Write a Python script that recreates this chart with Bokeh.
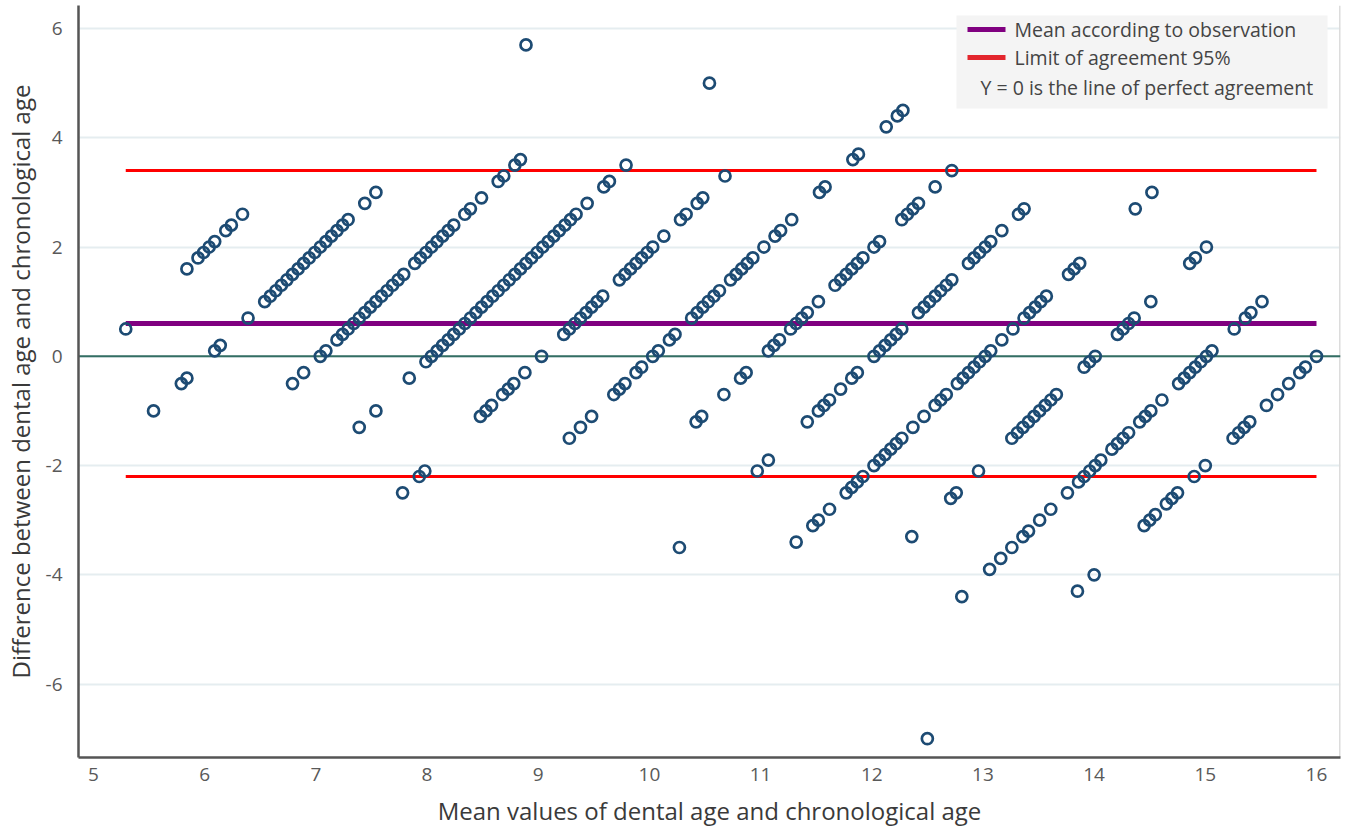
from bokeh.plotting import figure
from bokeh.models import Range1d, FixedTicker, Span, BoxAnnotation, Label
from bokeh.embed import file_html
from bokeh.resources import INLINE

# ---------------- data ----------------
mean_age = [
    # chronological age ~5
    5.29, 5.84, 5.94, 5.99, 6.04, 6.09, 6.19, 6.24, 6.34,
    # ~6
    5.54, 5.79, 5.84, 6.09, 6.14, 6.39, 6.54, 6.59, 6.64, 6.69, 6.74, 6.79, 6.84, 6.89,
    6.94, 6.99, 7.04, 7.09, 7.14, 7.19, 7.24, 7.29, 7.44, 7.54, 8.89,
    # ~7
    6.79, 6.89, 7.04, 7.09, 7.19, 7.24, 7.29, 7.34, 7.39, 7.44, 7.49, 7.54, 7.59, 7.64,
    7.69, 7.74, 7.79, 7.89, 7.94, 7.99, 8.04, 8.09, 8.14, 8.19, 8.24, 8.34, 8.39, 8.49,
    8.64, 8.69, 8.79, 8.84,
    # ~8
    7.39, 7.54, 7.84, 7.99, 8.04, 8.09, 8.14, 8.19, 8.24, 8.29, 8.34, 8.39, 8.44, 8.49,
    8.54, 8.59, 8.64, 8.69, 8.74, 8.79, 8.84, 8.89, 8.94, 8.99, 9.04, 9.09, 9.14, 9.19,
    9.24, 9.29, 9.34, 9.44, 9.59, 9.64, 9.79, 10.54,
    # ~9
    7.78, 7.93, 7.98, 8.48, 8.53, 8.58, 8.68, 8.73, 8.78, 8.88, 9.03, 9.23, 9.28, 9.33,
    9.38, 9.43, 9.48, 9.53, 9.58, 9.73, 9.78, 9.83, 9.88, 9.93, 9.98, 10.03, 10.13, 10.28,
    10.33, 10.43, 10.48, 10.68,
    # ~10
    9.28, 9.38, 9.48, 9.68, 9.73, 9.78, 9.88, 9.93, 10.03, 10.08, 10.18, 10.23, 10.38,
    10.43, 10.48, 10.53, 10.58, 10.63, 10.73, 10.78, 10.83, 10.88, 10.93, 11.03, 11.13,
    11.18, 11.28, 11.53, 11.58, 11.83, 11.88, 12.13, 12.23, 12.28,
    # ~11
    10.42, 10.47, 10.67, 10.82, 10.87, 11.07, 11.12, 11.17, 11.27, 11.32, 11.37, 11.42,
    11.52, 11.67, 11.72, 11.77, 11.82, 11.87, 11.92, 12.02, 12.07, 12.27, 12.32, 12.37,
    12.42, 12.57, 12.72,
    # ~12
    10.27, 10.97, 11.07, 11.42, 11.52, 11.57, 11.62, 11.72, 11.82, 11.87, 12.02, 12.07,
    12.12, 12.17, 12.22, 12.27, 12.42, 12.47, 12.52, 12.57, 12.62, 12.67, 12.72, 12.87,
    12.92, 12.97, 13.02, 13.07, 13.17, 13.32, 13.37,
    # ~13
    11.32, 11.47, 11.52, 11.62, 11.77, 11.82, 11.87, 11.92, 12.02, 12.07, 12.12, 12.17,
    12.22, 12.27, 12.37, 12.47, 12.57, 12.62, 12.67, 12.77, 12.82, 12.87, 12.92, 12.97,
    13.02, 13.07, 13.17, 13.27, 13.37, 13.42, 13.47, 13.52, 13.57, 13.77, 13.82, 13.87,
    14.37, 14.52,
    # ~14
    12.36, 12.71, 12.76, 12.96, 13.26, 13.31, 13.36, 13.41, 13.46, 13.51, 13.56, 13.61,
    13.66, 13.91, 13.96, 14.01, 14.21, 14.26, 14.31, 14.36, 14.51, 14.86, 14.91, 15.01,
    # ~15
    12.81, 13.06, 13.16, 13.26, 13.36, 13.41, 13.51, 13.61, 13.76, 13.86, 13.91, 13.96,
    14.01, 14.06, 14.16, 14.21, 14.26, 14.31, 14.41, 14.46, 14.51, 14.61, 14.76, 14.81,
    14.86, 14.91, 14.96, 15.01, 15.06, 15.26, 15.36, 15.41, 15.51,
    # ~16
    12.50, 13.85, 14.00, 14.45, 14.50, 14.55, 14.65, 14.70, 14.75, 14.90, 15.00, 15.25,
    15.30, 15.35, 15.40, 15.55, 15.65, 15.75, 15.85, 15.90, 16.00,
]

difference = [
    # ~5
    0.5, 1.6, 1.8, 1.9, 2.0, 2.1, 2.3, 2.4, 2.6,
    # ~6
    -1.0, -0.5, -0.4, 0.1, 0.2, 0.7, 1.0, 1.1, 1.2, 1.3, 1.4, 1.5, 1.6, 1.7,
    1.8, 1.9, 2.0, 2.1, 2.2, 2.3, 2.4, 2.5, 2.8, 3.0, 5.7,
    # ~7
    -0.5, -0.3, 0.0, 0.1, 0.3, 0.4, 0.5, 0.6, 0.7, 0.8, 0.9, 1.0, 1.1, 1.2,
    1.3, 1.4, 1.5, 1.7, 1.8, 1.9, 2.0, 2.1, 2.2, 2.3, 2.4, 2.6, 2.7, 2.9,
    3.2, 3.3, 3.5, 3.6,
    # ~8
    -1.3, -1.0, -0.4, -0.1, 0.0, 0.1, 0.2, 0.3, 0.4, 0.5, 0.6, 0.7, 0.8, 0.9,
    1.0, 1.1, 1.2, 1.3, 1.4, 1.5, 1.6, 1.7, 1.8, 1.9, 2.0, 2.1, 2.2, 2.3,
    2.4, 2.5, 2.6, 2.8, 3.1, 3.2, 3.5, 5.0,
    # ~9
    -2.5, -2.2, -2.1, -1.1, -1.0, -0.9, -0.7, -0.6, -0.5, -0.3, 0.0, 0.4, 0.5, 0.6,
    0.7, 0.8, 0.9, 1.0, 1.1, 1.4, 1.5, 1.6, 1.7, 1.8, 1.9, 2.0, 2.2, 2.5,
    2.6, 2.8, 2.9, 3.3,
    # ~10
    -1.5, -1.3, -1.1, -0.7, -0.6, -0.5, -0.3, -0.2, 0.0, 0.1, 0.3, 0.4, 0.7,
    0.8, 0.9, 1.0, 1.1, 1.2, 1.4, 1.5, 1.6, 1.7, 1.8, 2.0, 2.2,
    2.3, 2.5, 3.0, 3.1, 3.6, 3.7, 4.2, 4.4, 4.5,
    # ~11
    -1.2, -1.1, -0.7, -0.4, -0.3, 0.1, 0.2, 0.3, 0.5, 0.6, 0.7, 0.8,
    1.0, 1.3, 1.4, 1.5, 1.6, 1.7, 1.8, 2.0, 2.1, 2.5, 2.6, 2.7,
    2.8, 3.1, 3.4,
    # ~12
    -3.5, -2.1, -1.9, -1.2, -1.0, -0.9, -0.8, -0.6, -0.4, -0.3, 0.0, 0.1,
    0.2, 0.3, 0.4, 0.5, 0.8, 0.9, 1.0, 1.1, 1.2, 1.3, 1.4, 1.7,
    1.8, 1.9, 2.0, 2.1, 2.3, 2.6, 2.7,
    # ~13
    -3.4, -3.1, -3.0, -2.8, -2.5, -2.4, -2.3, -2.2, -2.0, -1.9, -1.8, -1.7,
    -1.6, -1.5, -1.3, -1.1, -0.9, -0.8, -0.7, -0.5, -0.4, -0.3, -0.2, -0.1,
    0.0, 0.1, 0.3, 0.5, 0.7, 0.8, 0.9, 1.0, 1.1, 1.5, 1.6, 1.7,
    2.7, 3.0,
    # ~14
    -3.3, -2.6, -2.5, -2.1, -1.5, -1.4, -1.3, -1.2, -1.1, -1.0, -0.9, -0.8,
    -0.7, -0.2, -0.1, 0.0, 0.4, 0.5, 0.6, 0.7, 1.0, 1.7, 1.8, 2.0,
    # ~15
    -4.4, -3.9, -3.7, -3.5, -3.3, -3.2, -3.0, -2.8, -2.5, -2.3, -2.2, -2.1,
    -2.0, -1.9, -1.7, -1.6, -1.5, -1.4, -1.2, -1.1, -1.0, -0.8, -0.5, -0.4,
    -0.3, -0.2, -0.1, 0.0, 0.1, 0.5, 0.7, 0.8, 1.0,
    # ~16
    -7.0, -4.3, -4.0, -3.1, -3.0, -2.9, -2.7, -2.6, -2.5, -2.2, -2.0, -1.5,
    -1.4, -1.3, -1.2, -0.9, -0.7, -0.5, -0.3, -0.2, 0.0,
]

mean_difference = 0.6
upper_limit = 3.4
lower_limit = -2.2

x_ticks = [5, 6, 7, 8, 9, 10, 11, 12, 13, 14, 15, 16]
y_ticks = [-6, -4, -2, 0, 2, 4, 6]

legend_labels = ["Mean according to observation", "Limit of agreement 95%",
                 "Y = 0 is the line of perfect agreement"]

# ---------------- styling / layout ----------------
X0, X1 = 4.865, 16.216
Y0, Y1 = -7.344, 6.421
FONT = "Open Sans"
DOT = "#1d4b73"
PURPLE = "#800080"
RED = "#ff0000"
ZERO = "#336e63"

W, H = 1343, 829
FL, FR, FT, FB = 78, 1340, 5, 757   # frame edges in page pixels

p = figure(width=W, height=H, output_backend="svg", toolbar_location=None,
           x_range=Range1d(X0, X1), y_range=Range1d(Y0, Y1),
           min_border_left=FL, min_border_right=W - FR, min_border_top=FT,
           min_border_bottom=H - FB)
p.outline_line_color = None
p.background_fill_color = "white"
p.border_fill_color = "white"

def px_x(px):
    return X0 + (px - FL) * (X1 - X0) / (FR - FL)
def px_y(py):
    return Y1 - (py - FT) * (Y1 - Y0) / (FB - FT)

# grid
p.xgrid.grid_line_color = None
p.ygrid.ticker = FixedTicker(ticks=y_ticks)
p.ygrid.grid_line_color = "#e5edf0"
p.ygrid.grid_line_width = 2

# axes
for ax in (p.xaxis[0], p.yaxis[0]):
    ax.axis_line_color = "#555555"
    ax.axis_line_width = 2.5
    ax.major_tick_line_color = None
    ax.minor_tick_line_color = None
    ax.major_tick_out = 0
    ax.major_tick_in = 0
    ax.minor_tick_out = 0
    ax.major_label_text_font = FONT
    ax.major_label_text_font_size = "19px"
    ax.major_label_text_color = "#595959"
    ax.axis_label_text_font = FONT
    ax.axis_label_text_font_size = "24px"
    ax.axis_label_text_font_style = "normal"
    ax.axis_label_text_color = "#3a3a3a"

p.xaxis.ticker = FixedTicker(ticks=x_ticks)
p.yaxis.ticker = FixedTicker(ticks=y_ticks)
p.yaxis.major_label_overrides = {t: str(t) for t in y_ticks}
p.xaxis.major_label_standoff = 10
p.xaxis.axis_label_standoff = 10
p.yaxis.major_label_standoff = 16
p.yaxis.axis_label_standoff = 6
p.xaxis.axis_label = "Mean values of dental age and chronological age"
p.yaxis.axis_label = "Difference between dental age and chronological age"

# light right border of the frame
p.add_layout(Span(location=X1, dimension="height", line_color="#dcdcdc",
                  line_width=3, level="underlay"))

# perfect agreement line
p.add_layout(Span(location=0, dimension="width", line_color=ZERO,
                  line_width=2, level="underlay"))

# mean and limits of agreement
xs = [min(mean_age), max(mean_age)]
p.line(xs, [upper_limit, upper_limit], line_color=RED, line_width=3)
p.line(xs, [lower_limit, lower_limit], line_color=RED, line_width=3)
p.line(xs, [mean_difference, mean_difference], line_color=PURPLE, line_width=5)

# points
p.scatter(mean_age, difference, marker="circle", size=11, fill_color=None,
          line_color=DOT, line_width=2.7)

# legend (drawn by hand)
p.add_layout(BoxAnnotation(left=px_x(956), right=px_x(1327), top=px_y(15),
                           bottom=px_y(108), fill_color="#f4f4f4", fill_alpha=1,
                           line_color=None))
p.add_layout(BoxAnnotation(left=px_x(967), right=px_x(1005), top=px_y(26.5),
                           bottom=px_y(31.5), fill_color=PURPLE, fill_alpha=1,
                           line_color=None))
p.add_layout(BoxAnnotation(left=px_x(967), right=px_x(1005), top=px_y(54.5),
                           bottom=px_y(59.5), fill_color="#e3262d", fill_alpha=1,
                           line_color=None))
for lbl, lx, ly in zip(legend_labels, [1014, 1014, 980], [29, 57, 87]):
    p.add_layout(Label(x=px_x(lx), y=px_y(ly), text=lbl, text_baseline="middle",
                       text_align="left", text_font=FONT, text_font_size="19.5px",
                       text_color="#444444"))

open("out.html", "w").write(file_html(p, INLINE))
